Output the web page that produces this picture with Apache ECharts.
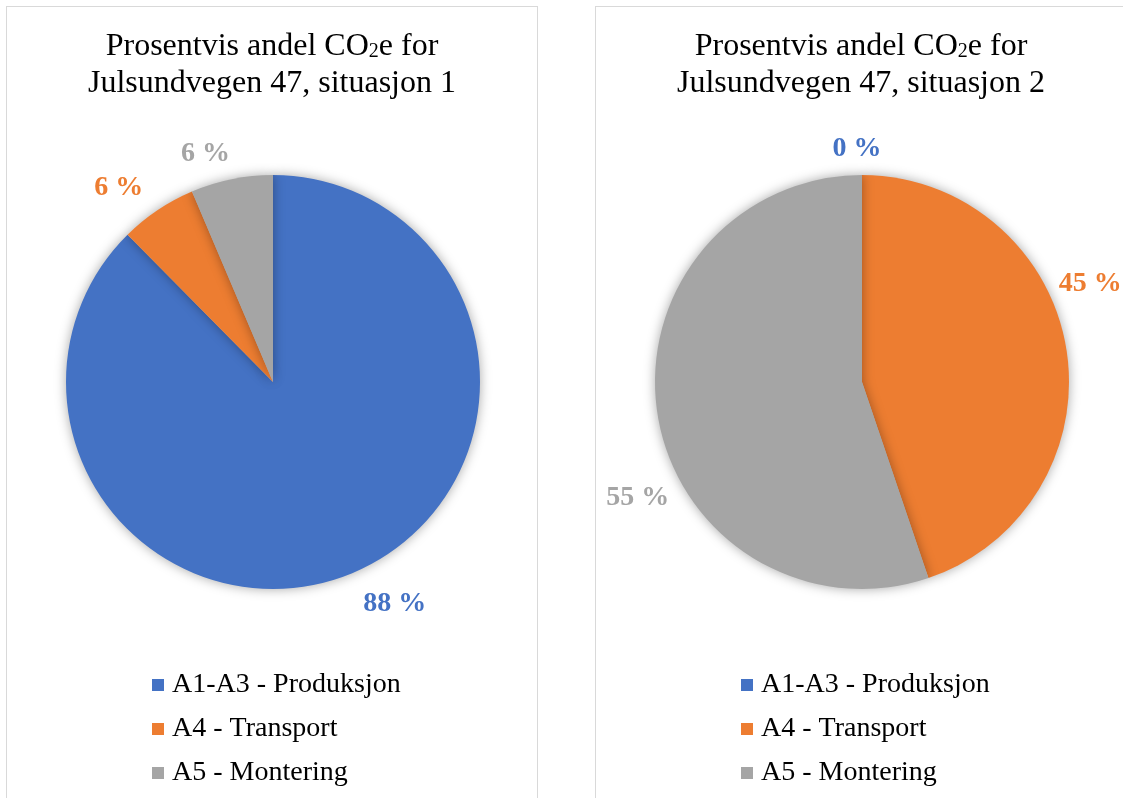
<!DOCTYPE html>
<html>
<head>
<meta charset="utf-8">
<script src="https://cdn.jsdelivr.net/npm/echarts@6/dist/echarts.min.js"></script>
<style>
  html, body { margin: 0; padding: 0; background: #fff; overflow: hidden; }
  .panel { position: absolute; top: 6px; width: 532px; height: 820px;
           border: 1px solid #d9d9d9; box-sizing: border-box; background: #fff; }
  #p1 { left: 6px; }
  #p2 { left: 595px; }
</style>
</head>
<body>
<div id="p1" class="panel"></div>
<div id="p2" class="panel"></div>
<script>
// Life-cycle stages (share of CO2e)
const categories = ['A1-A3 - Produksjon', 'A4 - Transport', 'A5 - Montering'];
const colors = ['#4472C4', '#ED7D31', '#A5A5A5'];

// Situation 1 and situation 2 shares, per stage
const situasjon1 = [87.6, 6.0, 6.4];
const situasjon2 = [0, 44.8, 55.2];

// Title lines; {sub|2} is drawn as a subscript
const titles = [
  'Prosentvis andel CO{sub|2}e for\nJulsundvegen 47, situasjon 1',
  'Prosentvis andel CO{sub|2}e for\nJulsundvegen 47, situasjon 2'
];

// Label placement tweaks per slice (best-fit style), in pixels
const labelTweak1 = [{ dx: -6 }, { dx: 9, dy: 5 }, { dx: 10, dy: 7 }];
const labelTweak2 = [{ align: 'center', dy: 7 }, { dx: -45, dy: -59 }, { dx: 49, dy: 77 }];

const serif = '"Liberation Serif", "Times New Roman", "DejaVu Serif", serif';

function build(el, title, values, tweaks) {
  const chart = echarts.init(document.getElementById(el), null, { renderer: 'canvas' });
  chart.setOption({
    animation: false,
    color: colors,
    title: {
      text: title,
      left: 'center',
      top: 21,
      padding: 0,
      textStyle: {
        fontFamily: serif, fontSize: 32, fontWeight: 'normal', color: '#000', lineHeight: 37,
        rich: {
          sub: { fontFamily: serif, fontSize: 20, color: '#000', lineHeight: 37, padding: [10, 0, 0, 0] }
        }
      }
    },
    legend: {
      orient: 'vertical',
      left: 140,
      top: 658,
      icon: 'rect',
      itemWidth: 12,
      itemHeight: 12,
      itemGap: 14,
      textStyle: { fontFamily: serif, fontSize: 28, color: '#000', lineHeight: 30, padding: [0, 0, 0, 3] },
      data: categories
    },
    series: [{
      type: 'pie',
      center: [266, 375],
      radius: 207,
      startAngle: 90,
      clockwise: true,
      avoidLabelOverlap: false,
      itemStyle: { shadowBlur: 12, shadowColor: 'rgba(0,0,0,0.35)' },
      label: {
        show: true,
        position: 'outside',
        formatter: p => Math.round(p.percent) + ' %',
        fontFamily: serif,
        fontSize: 28,
        fontWeight: 'bold',
        color: 'inherit'
      },
      labelLine: { show: false, length: 33, length2: 0 },
      labelLayout: p => tweaks[p.dataIndex] || {},
      emphasis: { disabled: true },
      data: categories.map((name, i) => ({
        name,
        value: values[i],
        label: { color: colors[i] }
      }))
    }]
  });
}

build('p1', titles[0], situasjon1, labelTweak1);
build('p2', titles[1], situasjon2, labelTweak2);
</script>
</body>
</html>
